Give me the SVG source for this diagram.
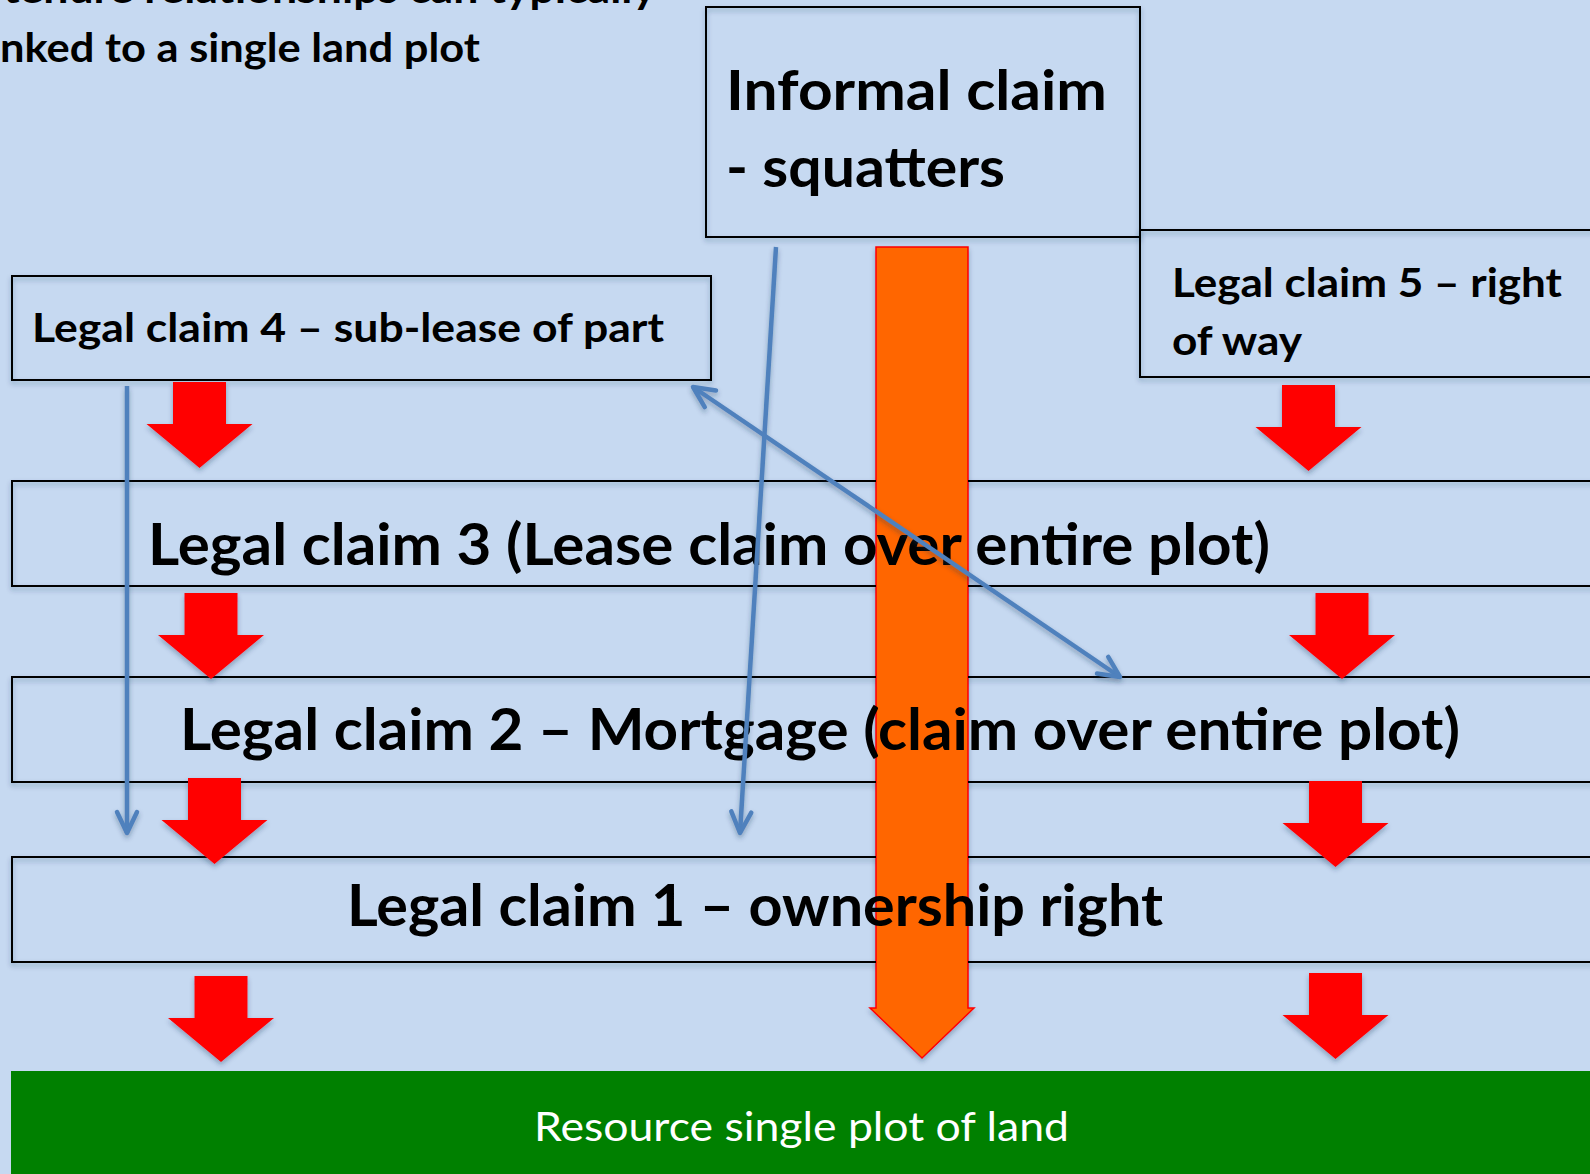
<svg xmlns="http://www.w3.org/2000/svg" xmlns:xlink="http://www.w3.org/1999/xlink" width="1590" height="1174" viewBox="0 0 1590 1174">
  <style>
    .bg { fill: #C6D9F1; }
    .box { fill: none; stroke: #000; stroke-width: 2; }
    .lbl { font-family: "Lato", "Open Sans", "Liberation Sans", sans-serif; font-weight: 700; fill: #000; }
    .res { font-family: "Lato", "Open Sans", "Liberation Sans", sans-serif; font-weight: 400; fill: #fff; }
    .link { fill: none; stroke: #4F81BD; stroke-width: 4.5; }
    .down { fill: #FF0000; }
  </style>
  <defs>
    <filter id="soft" x="-10%" y="-10%" width="120%" height="130%">
      <feDropShadow dx="0" dy="3" stdDeviation="2.5" flood-color="#1F3555" flood-opacity="0.35"/>
    </filter>
    <!-- box outlines are hidden where the squatters bar passes over them -->
    <mask id="bar-gap" maskUnits="userSpaceOnUse" x="0" y="0" width="1590" height="1174">
      <rect x="0" y="0" width="1590" height="1174" fill="#fff"/>
      <rect x="876" y="247" width="92" height="762" fill="#000"/>
    </mask>
    <path id="red-down" d="M-26.5,0 H26.5 V42 H53 L0,86 L-53,42 H-26.5 Z"/>
    <marker id="vee" viewBox="-26 -14 30 28" refX="0" refY="0" markerWidth="30" markerHeight="28" markerUnits="userSpaceOnUse" orient="auto-start-reverse">
      <path d="M-21,-10 L0,0 L-21,10" fill="none" stroke="#4F81BD" stroke-width="4.5" stroke-linecap="round" stroke-linejoin="round"/>
    </marker>
  </defs>

  <rect class="bg" x="0" y="0" width="1590" height="1174"/>

  <!-- heading, partly outside the page -->
  <g id="heading">
    <text class="lbl" x="3" y="3" font-size="40" textLength="653" lengthAdjust="spacingAndGlyphs">tenure relationships can typically</text>
    <text class="lbl" x="0" y="62" font-size="40" textLength="480" lengthAdjust="spacingAndGlyphs">nked to a single land plot</text>
  </g>

  <!-- informal claim bar running down to the land -->
  <g id="squatters-bar">
    <polygon points="876,247 968,247 968,1008 974,1008 922,1058 870,1008 876,1008" fill="#FF6600" stroke="#FF0000" stroke-width="1.5" filter="url(#soft)"/>
  </g>

  <g id="informal-claim">
    <rect class="box" x="706" y="7" width="434" height="230" filter="url(#soft)"/>
    <text class="lbl" x="726" y="110" font-size="56" textLength="381" lengthAdjust="spacingAndGlyphs">Informal claim</text>
    <text class="lbl" x="726" y="187" font-size="56" textLength="279" lengthAdjust="spacingAndGlyphs">- squatters</text>
  </g>

  <g id="claim5">
    <rect class="box" x="1140" y="230" width="470" height="147" filter="url(#soft)"/>
    <text class="lbl" x="1172" y="297" font-size="40" textLength="390" lengthAdjust="spacingAndGlyphs">Legal claim 5 – right</text>
    <text class="lbl" x="1172" y="355" font-size="40" textLength="130" lengthAdjust="spacingAndGlyphs">of way</text>
  </g>

  <g id="claim4">
    <rect class="box" x="12" y="276" width="699" height="104" filter="url(#soft)"/>
    <text class="lbl" x="32" y="342" font-size="40" textLength="632" lengthAdjust="spacingAndGlyphs">Legal claim 4 – sub-lease of part</text>
  </g>

  <g id="claim3">
    <rect class="box" x="12" y="481" width="1600" height="105" mask="url(#bar-gap)" filter="url(#soft)"/>
    <text class="lbl" x="148" y="565" font-size="58" textLength="1122" lengthAdjust="spacingAndGlyphs">Legal claim 3 (Lease claim over entire plot)</text>
  </g>

  <g id="claim2">
    <rect class="box" x="12" y="677" width="1600" height="105" mask="url(#bar-gap)" filter="url(#soft)"/>
    <text class="lbl" x="180" y="750" font-size="58" textLength="1280" lengthAdjust="spacingAndGlyphs">Legal claim 2 – Mortgage (claim over entire plot)</text>
  </g>

  <g id="claim1">
    <rect class="box" x="12" y="857" width="1600" height="105" mask="url(#bar-gap)" filter="url(#soft)"/>
    <text class="lbl" x="347" y="926" font-size="58" textLength="816" lengthAdjust="spacingAndGlyphs">Legal claim 1 – ownership right</text>
  </g>

  <g id="land">
    <rect x="11" y="1071" width="1590" height="110" fill="#008000"/>
    <text class="res" x="534" y="1141" font-size="41" textLength="535" lengthAdjust="spacingAndGlyphs">Resource single plot of land</text>
  </g>

  <!-- block arrows between the layers of claims -->
  <g id="layer-arrows" class="down" filter="url(#soft)">
    <use xlink:href="#red-down" transform="translate(199.5,382)"/>
    <use xlink:href="#red-down" transform="translate(211,593)"/>
    <use xlink:href="#red-down" transform="translate(214.5,778)"/>
    <use xlink:href="#red-down" transform="translate(221,976)"/>
    <use xlink:href="#red-down" transform="translate(1308.5,385)"/>
    <use xlink:href="#red-down" transform="translate(1342,593)"/>
    <use xlink:href="#red-down" transform="translate(1335.5,781)"/>
    <use xlink:href="#red-down" transform="translate(1335.5,973)"/>
  </g>

  <!-- connectors -->
  <g id="connectors" filter="url(#soft)">
    <line class="link" x1="127" y1="386" x2="127" y2="833" marker-end="url(#vee)"/>
    <line class="link" x1="776" y1="247" x2="740" y2="833" marker-end="url(#vee)"/>
    <line class="link" x1="693" y1="387" x2="1120" y2="677" marker-start="url(#vee)" marker-end="url(#vee)"/>
  </g>
</svg>
